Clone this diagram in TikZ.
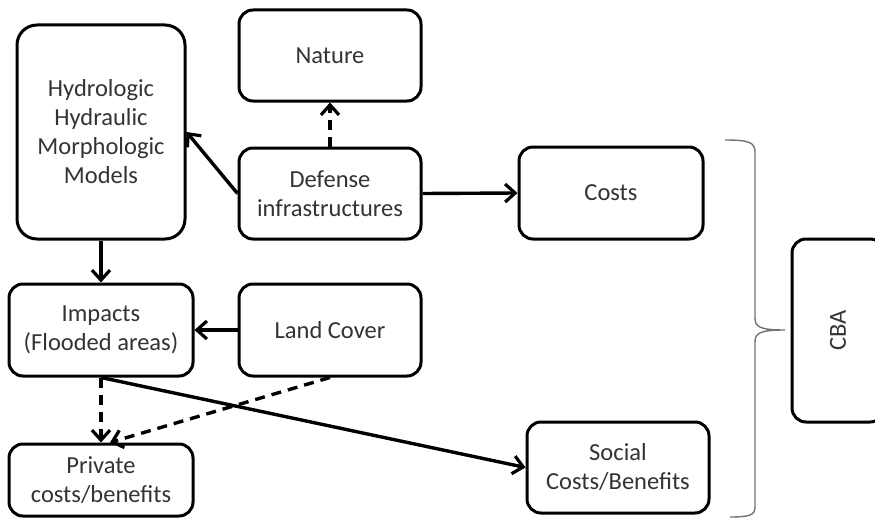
\documentclass[tikz,border=0pt]{standalone}
\usepackage{fontspec}
\setmainfont{Carlito}
\usetikzlibrary{arrows.meta,calc}
\begin{document}
\begin{tikzpicture}[x=1pt,y=-1pt,
  box/.style={draw=black,line width=3pt,rounded corners=14pt,align=center,
    font=\fontsize{24.5}{29}\selectfont,text=black!80,inner sep=0pt},
  arr/.style={line width=3.4pt,-{Straight Barb[length=10pt,width=18pt,line width=3.2pt]}},
  darr/.style={arr,dash pattern=on 10pt off 7pt},
  brace/.style={draw=black!55,line width=1.4pt}]
\useasboundingbox (0,0) rectangle (875,519);
\clip (0,0) rectangle (875,519);
\node[box,rounded corners=20pt,minimum width=168pt,minimum height=214pt] (hydro) at (101,132) {Hydrologic\\Hydraulic\\Morphologic\\Models};
\node[box,minimum width=182pt,minimum height=91pt] (nature) at (330,55.5) {Nature};
\node[box,minimum width=182pt,minimum height=91pt] (def) at (330,193.5) {Defense\\infrastructures};
\node[box,minimum width=184pt,minimum height=92pt] (costs) at (611,193) {Costs};
\node[box,minimum width=184pt,minimum height=92pt] (imp) at (101,330) {Impacts\\(Flooded areas)};
\node[box,minimum width=182pt,minimum height=92pt] (land) at (330,330) {Land Cover};
\node[box,minimum width=184pt,minimum height=72pt] (priv) at (101,480) {Private\\costs/benefits};
\node[box,minimum width=182pt,minimum height=91pt] (soc) at (618,467.5) {Social\\Costs/Benefits};
\node[box,minimum width=92pt,minimum height=183pt] (cba) at (838,330.5) {\rotatebox{90}{CBA}};
\coordinate (privr) at ($(priv.north)+(9,0)$);
\draw[arr] (def.west) -- (hydro.east);
\draw[darr] (def.north) -- (nature.south);
\draw[arr] (def.east) -- (costs.west);
\draw[arr] (hydro.south) -- (imp.north);
\draw[arr] (land.west) -- (imp.east);
\draw[arr] (imp.south) -- (soc.west);
\draw[darr] (imp.south) -- (priv.north);
\draw[darr] (land.south) -- (privr);
\draw[brace] (725,140) .. controls (748,140) and (755,142) .. (755,152)
  -- (755,318) .. controls (755,327) and (760,330) .. (785,330)
  .. controls (760,330) and (755,333) .. (755,342)
  -- (755,507) .. controls (755,515) and (750,517) .. (730,517);
\end{tikzpicture}
\end{document}
